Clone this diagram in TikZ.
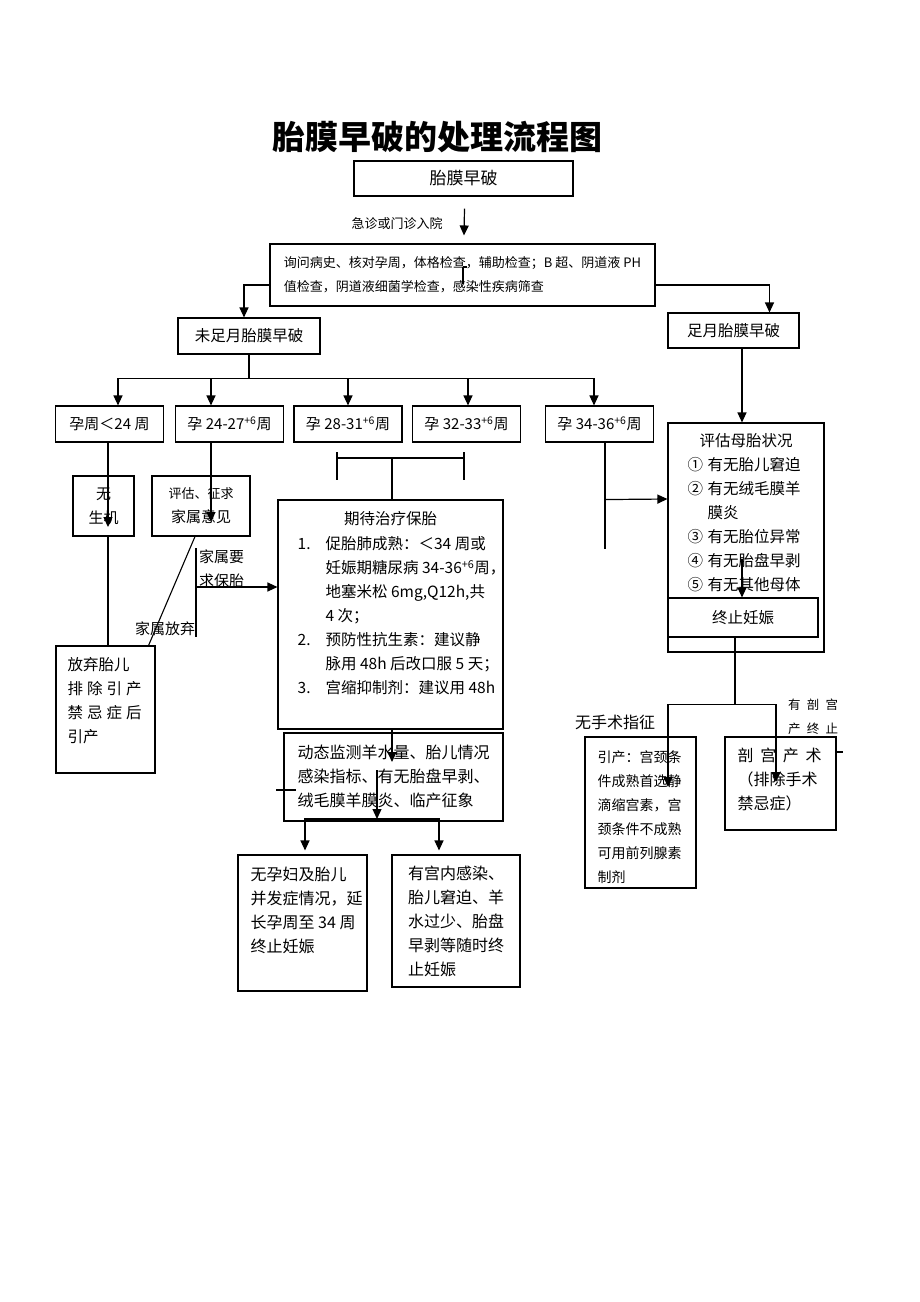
\documentclass[tikz,border=0pt]{standalone}
\usepackage{fontspec}
\setmainfont{Noto Sans CJK SC}
\usetikzlibrary{arrows.meta,positioning}

\newcommand\fsz[1]{\fontsize{#1}{24}\selectfont}

\tikzset{
  box/.style={draw, line width=1.1pt, inner sep=0pt, align=center},
  wk/.style={box, minimum width=108pt, minimum height=36pt, font=\fsz{15}},
  arr/.style={-{Triangle[length=10pt,width=9pt]}, line width=1.2pt},
  lin/.style={line width=1.1pt},
  txt/.style={inner sep=0pt, align=left},
}

\begin{document}
\begin{tikzpicture}[x=1pt, y=-1pt]
\useasboundingbox (0,0) rectangle (920,1302);
% title and entry
\node[font=\bfseries\fsz{33}] (title) at (437,137) {胎膜早破的处理流程图};
\node[box, minimum width=219pt, minimum height=35pt, font=\fsz{17}] (top) at (463.5,178.5) {胎膜早破};
\node[font=\fsz{13}] (jz) at (397,224) {急诊或门诊入院};
\node[box, minimum width=385pt, minimum height=62pt, font=\fsz{13}, align=left] (exam) at (462.5,275)
  {询问病史、核对孕周，体格检查，辅助检查；B 超、阴道液 PH\\值检查，阴道液细菌学检查，感染性疾病筛查};
\draw[arr] ([xshift=1pt,yshift=-12pt]top.south) -- ([xshift=1.5pt,yshift=8pt]exam.north);
\draw[lin] ([xshift=0.5pt,yshift=8pt]exam.center) -- ([xshift=0.5pt,yshift=-9pt]exam.center);
\draw[lin] ([xshift=0.5pt,yshift=8pt]exam.center) -- ([xshift=4pt,yshift=8pt]exam.center);

\node[box, minimum width=142pt, minimum height=36pt, font=\fsz{15.5}] (weizu) at (249,336) {未足月胎膜早破};
\node[box, minimum width=131pt, minimum height=35pt, font=\fsz{15.5}] (zuyue) at (733.5,330.5) {足月胎膜早破};
\draw[arr] ([yshift=-10pt]exam.west) -| ([xshift=-5pt]weizu.north);
\draw[arr] ([yshift=-10pt]exam.east) -| ([xshift=36pt]zuyue.north);

% weeks
\node[wk] (w1) at (109.5,424) {孕周＜24 周};
\node[wk] (w2) at (229.5,424) {孕 24-27\textsuperscript{+6}周};
\node[wk] (w3) at (348,424) {孕 28-31\textsuperscript{+6}周};
\node[wk] (w4) at (466.5,424) {孕 32-33\textsuperscript{+6}周};
\node[wk] (w5) at (599.5,424) {孕 34-36\textsuperscript{+6}周};
\draw[lin] (weizu.south) -- ++(0,24) coordinate (bus);
\foreach \n/\d in {w1/8.5,w2/-18.5,w3/0,w4/1.5,w5/-5.5}
  \draw[arr] (bus) -| ([xshift=\d pt]\n.north);

% < 28 weeks
\node[box, minimum width=61pt, minimum height=60pt, font=\fsz{15}] (wusj) at (103.5,506) {无\\生机};
\node[box, minimum width=98pt, minimum height=60pt, font=\fsz{15}] (pgyj) at (201,506) {{\fsz{13}评估、征求}\\家属意见};
\draw[arr] ([xshift=-1.5pt]w1.south) -- ([xshift=4.5pt,yshift=-21pt]wusj.center);
\draw[arr] ([xshift=-18.5pt]w2.south) -- ([xshift=10pt,yshift=-16pt]pgyj.center);
\node[box, minimum width=99pt, minimum height=127pt] (fqtz) at (105.5,709.5) {};
\node[txt, font=\fsz{15.5}, anchor=west] (fqtxt) at ([xshift=12pt,yshift=8.5pt]fqtz.west)
  {放弃胎儿\\\makebox[74pt][s]{排\hfil 除\hfil 引\hfil 产}\\\makebox[74pt][s]{禁\hfil 忌\hfil 症\hfil 后}\\引产};
\draw[lin] ([xshift=4.5pt]wusj.south) -- ([xshift=2.5pt]fqtz.north);
\draw[lin] ([xshift=-6pt]pgyj.south) -- ([xshift=-7pt]fqtz.north east);
\node[font=\fsz{15}] (fqlab) at (165,629) {家属放弃};

% 28-34 weeks
\node[box, minimum width=225pt, minimum height=229pt] (qd) at (390.5,614.5) {};
\node[font=\fsz{15.5}] (qdt) at ([yshift=-19pt]qd.north) {期待治疗保胎};
\node[txt, font=\fsz{15.5}, anchor=west] (qdl) at ([xshift=20pt,yshift=-1pt]qd.west)
  {\makebox[28pt][l]{1.}促胎肺成熟：＜34 周或\\
   \hspace*{28pt}妊娠期糖尿病 34-36\textsuperscript{+6}周，\\
   \hspace*{28pt}地塞米松 6mg,Q12h,共\\
   \hspace*{28pt}4 次；\\
   \makebox[28pt][l]{2.}预防性抗生素：建议静\\
   \hspace*{28pt}脉用 48h 后改口服 5 天；\\
   \makebox[28pt][l]{3.}宫缩抑制剂：建议用 48h};
\coordinate (jsb) at (196,587);
\draw[lin] ([yshift=39pt]jsb) -- ([yshift=-50pt]jsb);
\node[txt, font=\fsz{15}, anchor=west] (bllab) at (199,569) {家属要\\求保胎};
\draw[arr] (jsb) -- ([yshift=27.5pt]qd.west);
\coordinate (brk) at (392,458);
\draw[lin] ([xshift=-55pt]brk) -- ([xshift=72pt]brk);
\draw[lin] ([xshift=-55pt,yshift=6pt]brk) -- ([xshift=-55pt,yshift=-22pt]brk);
\draw[lin] ([xshift=72pt,yshift=6pt]brk) -- ([xshift=72pt,yshift=-22pt]brk);
\draw[lin] (brk) -- (brk |- qd.north);

\node[box, minimum width=219pt, minimum height=88pt, font=\fsz{16}, align=left] (dt) at (393.5,777)
  {动态监测羊水量、胎儿情况\\感染指标、有无胎盘早剥、\\绒毛膜羊膜炎、临产征象};
\draw[arr] ([xshift=1.5pt]qd.south) -- ([xshift=-1.5pt,yshift=15pt]dt.center);
\draw[lin] ([xshift=-7pt,yshift=-13pt]dt.west) -- ([xshift=13pt,yshift=-13pt]dt.west);
\node[box, minimum width=129pt, minimum height=136pt] (wy) at (302.5,923) {};
\node[txt, font=\fsz{16}, anchor=west] (wytxt) at ([xshift=13pt,yshift=13pt]wy.west)
  {无孕妇及胎儿\\并发症情况，延\\长孕周至 34 周\\终止妊娠};
\node[box, minimum width=128pt, minimum height=132pt, font=\fsz{16}, align=left] (yg) at (456,921)
  {有宫内感染、\\胎儿窘迫、羊\\水过少、胎盘\\早剥等随时终\\止妊娠};
\coordinate (dts) at (377,819);
\draw[arr] ([yshift=49pt]dts) -- (dts);
\draw[arr, shorten >=4pt] (dts) -| ([xshift=2.5pt]wy.north);
\draw[arr, shorten >=4pt] (dts) -| ([xshift=-17pt]yg.north);

% 34-37 weeks and term
\node[box, minimum width=156pt, minimum height=229pt] (pg2) at (746,537.5) {};
\node[font=\fsz{15.5}] (pg2t) at ([yshift=-18pt]pg2.north) {评估母胎状况};
\node[txt, font=\fsz{15.5}, anchor=west] (pg2l) at ([xshift=20pt,yshift=12.5pt]pg2.west)
  {\makebox[20pt][l]{①}有无胎儿窘迫\\
   \makebox[20pt][l]{②}有无绒毛膜羊\\
   \hspace*{20pt}膜炎\\
   \makebox[20pt][l]{③}有无胎位异常\\
   \makebox[20pt][l]{④}有无胎盘早剥\\
   \makebox[20pt][l]{⑤}有无其他母体};
\draw[lin] ([xshift=5.5pt]w5.south) -- ++(0,106);
\draw[arr] ([xshift=5.5pt,yshift=-57pt]w5.south) -- ([yshift=38.5pt]pg2.west);
\draw[arr] ([xshift=8.5pt]zuyue.south) -- ([xshift=-4pt]pg2.north);
\node[box, minimum width=150pt, minimum height=39pt, fill=white, font=\fsz{15.5}] (zz) at (743,617.5) {终止妊娠};
\draw[arr] ([xshift=-1pt,yshift=38pt]zz.north) -- ([xshift=-1pt]zz.north);

\node[box, minimum width=111pt, minimum height=151pt] (yc) at (640.5,812.5) {};
\node[txt, font=\fsz{14}, anchor=west] (yctxt) at ([xshift=13pt,yshift=-4.5pt]yc.west)
  {引产：宫颈条\\件成熟首选静\\滴缩宫素，宫\\颈条件不成熟\\可用前列腺素\\制剂};
\node[box, minimum width=111pt, minimum height=93pt] (pgc) at (780.5,783.5) {};
\node[txt, font=\fsz{16}, anchor=west] (pgctxt) at ([xshift=13pt,yshift=4.5pt]pgc.west)
  {\makebox[84pt][s]{剖\hfil 宫\hfil 产\hfil 术}\\（排除手术\\禁忌症）};
\draw[lin] ([xshift=-8pt]zz.south) -- ++(0,67) coordinate (zzb);
\draw[arr] (zzb) -| ([xshift=27.5pt,yshift=25.5pt]yc.center);
\draw[arr] (zzb) -| ([xshift=-4.5pt,yshift=1.5pt]pgc.center);
\draw[lin] ([yshift=31.5pt]pgc.east) -- ++(6,0);
\node[font=\fsz{16}] (wss) at (615,722) {无手术指征};
\node[txt, font=\fsz{12.5}, anchor=west] (ypg) at (788,717)
  {\makebox[50pt][s]{有\hfil 剖\hfil 宫}\\\makebox[50pt][s]{产\hfil 终\hfil 止}};
\end{tikzpicture}
\end{document}
